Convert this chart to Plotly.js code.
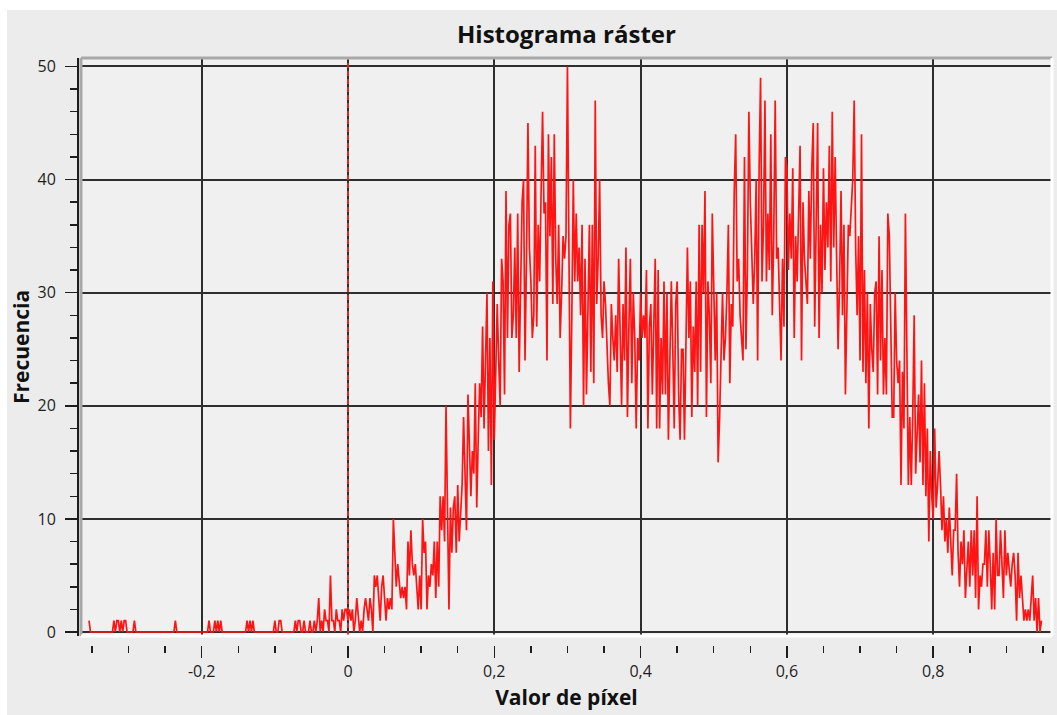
<!DOCTYPE html>
<html>
<head>
<meta charset="utf-8">
<script src="https://cdn.plot.ly/plotly-3.0.1.min.js"></script>
<style>
  html, body { margin: 0; padding: 0; background: #ffffff; }
  #chart { position: absolute; left: 7px; top: 10px; width: 1050px; height: 705px; }
</style>
</head>
<body>
<div id="chart"></div>
<script>
// Histogram bins (uniform): first bin centre and bin width
const binStart = -0.354;
const binWidth = 0.002;

// Frequencies, one per bin
const freq = [
  1,0,0,0,0,0,0,0,0,0,
  0,0,0,0,0,0,0,1,0,1,
  1,0,1,0,1,1,0,0,0,0,
  0,1,0,0,0,0,0,0,0,0,
  0,0,0,0,0,0,0,0,0,0,
  0,0,0,0,0,0,0,0,0,1,
  0,0,0,0,0,0,0,0,0,0,
  0,0,0,0,0,0,0,0,0,0,
  0,0,1,0,0,0,1,0,1,0,
  1,0,0,0,0,0,0,0,0,0,
  0,0,0,0,0,0,0,0,1,0,
  1,0,1,0,0,0,0,0,0,0,
  0,0,0,0,0,0,0,1,0,0,
  1,1,0,0,0,0,0,0,0,0,
  0,1,0,1,1,0,0,1,0,0,
  0,1,0,0,1,0,1,3,0,1,
  0,2,1,1,0,5,1,1,0,2,
  1,1,0,2,1,2,2,1,2,1,
  2,0,1,3,1,0,1,0,2,3,
  2,1,3,2,0,5,4,5,3,1,
  4,5,3,1,3,2,3,2,10,6,
  4,6,4,3,4,3,4,2,8,5,
  9,6,5,6,4,2,5,2,10,7,
  8,2,5,4,6,5,8,3,8,4,
  12,9,12,8,20,11,2,11,7,11,
  12,7,13,8,11,13,19,14,9,21,
  17,12,16,14,22,11,17,22,19,27,
  18,24,30,16,26,13,31,17,25,29,
  24,20,33,31,21,39,26,36,37,26,
  28,34,26,37,23,30,38,40,24,33,
  45,34,31,26,28,43,27,36,31,39,
  46,37,38,24,44,35,42,29,44,33,
  29,36,26,30,35,33,35,50,33,18,
  28,40,31,37,31,34,28,36,20,33,
  21,31,36,23,36,22,47,29,33,40,
  28,26,31,29,25,22,20,29,26,24,
  28,23,33,26,20,29,24,34,19,27,
  33,22,30,26,18,26,24,30,26,28,
  26,32,18,27,29,21,26,33,18,32,
  18,26,21,31,21,30,17,25,31,25,
  18,29,31,21,17,25,25,17,28,34,
  26,31,19,27,23,31,20,36,23,36,
  30,39,19,31,28,22,37,30,24,30,
  15,19,25,30,24,26,30,36,22,29,
  27,39,44,31,33,28,26,24,42,25,
  32,46,38,32,29,33,40,24,41,49,
  31,36,47,31,37,32,44,28,35,47,
  33,34,29,24,33,27,42,41,32,37,
  33,41,26,35,31,37,43,24,38,33,
  31,29,39,33,41,45,27,35,45,26,
  36,30,41,32,38,34,43,31,46,34,
  42,33,25,31,39,28,36,21,30,36,
  35,38,40,47,34,28,35,24,44,23,
  32,22,30,18,29,25,23,30,31,21,
  35,24,32,21,26,21,37,35,27,19,
  19,30,24,22,24,13,23,18,37,21,
  13,19,13,19,28,14,17,21,15,24,
  13,22,12,18,8,16,12,10,18,11,
  13,16,13,9,12,8,10,7,11,8,
  5,9,9,14,7,4,8,6,9,3,
  6,8,4,9,5,9,3,12,2,5,
  4,6,6,9,4,9,6,2,7,2,
  10,5,5,9,6,3,9,5,7,5,
  4,6,7,5,1,7,3,5,3,1,
  2,1,2,1,3,5,1,3,0,3,0,1
];

const xTickVals = [-0.2, 0, 0.2, 0.4, 0.6, 0.8];
const xTickText = ['-0,2', '0', '0,2', '0,4', '0,6', '0,8'];
const yTickVals = [0, 10, 20, 30, 40, 50];
const yTickText = ['0', '10', '20', '30', '40', '50'];

const binCentres = freq.map((_, i) => binStart + i * binWidth);

const FONT = 'Open Sans, Noto Sans, DejaVu Sans, sans-serif';
const INK = '#1e1e1e';
const GRID = '#2e2e2e';

const trace = {
  type: 'scatter',
  mode: 'lines',
  x: binCentres,
  y: freq,
  line: { color: '#ff1414', width: 1.7 },
  hoverinfo: 'skip'
};

const layout = {
  width: 1050,
  height: 705,
  paper_bgcolor: '#ececec',
  plot_bgcolor: '#f0f0f0',
  margin: { l: 70, r: 5, t: 48, b: 70, pad: 0 },
  separators: ', ',
  showlegend: false,
  title: {
    text: 'Histograma ráster',
    font: { family: FONT, size: 24, color: '#111111', weight: 700 },
    x: 0.502, xref: 'paper', xanchor: 'center',
    y: 1 - 25 / 705, yref: 'container', yanchor: 'middle'
  },
  xaxis: {
    range: [-0.365, 0.9624],
    domain: [0.0041, 1],
    anchor: 'free',
    position: 0,
    tickmode: 'array',
    tickvals: xTickVals,
    ticktext: xTickText,
    ticks: 'outside',
    ticklen: 12,
    tickwidth: 1.5,
    tickcolor: INK,
    minor: { tickmode: 'linear', tick0: -0.35, dtick: 0.05, ticks: 'outside', ticklen: 7, tickwidth: 1.5, tickcolor: INK, showgrid: false },
    showgrid: true,
    gridcolor: GRID,
    gridwidth: 2,
    zeroline: false,
    showline: false,
    tickfont: { family: FONT, size: 16, color: INK },
    title: { text: 'Valor de píxel', font: { family: FONT, size: 21, color: '#111111', weight: 700 }, standoff: 9 },
    fixedrange: true
  },
  yaxis: {
    range: [-0.354, 50.75],
    domain: [0.0153, 1],
    anchor: 'free',
    position: 0,
    tickmode: 'array',
    tickvals: yTickVals,
    ticktext: yTickText,
    ticks: 'outside',
    ticklen: 12,
    tickwidth: 1.5,
    tickcolor: INK,
    ticklabelstandoff: 6,
    minor: { tickmode: 'linear', tick0: 0, dtick: 2, ticks: 'outside', ticklen: 7, tickwidth: 1.5, tickcolor: INK, showgrid: false },
    showline: true,
    linecolor: INK,
    linewidth: 1.5,
    showgrid: true,
    gridcolor: GRID,
    gridwidth: 2,
    zeroline: false,
    tickfont: { family: FONT, size: 16, color: INK },
    title: { text: 'Frecuencia', font: { family: FONT, size: 21, color: '#111111', weight: 700 }, standoff: 6 },
    fixedrange: true
  },
  shapes: [
    { type: 'line', layer: 'above', xref: 'x', yref: 'y domain', x0: 0, x1: 0, y0: 0, y1: 1,
      line: { color: '#ff2a2a', width: 1.6, dash: '5px,3px' } },
    { type: 'line', layer: 'above', xref: 'x domain', yref: 'y domain', x0: 0, x1: 1, y0: 1, y1: 1,
      line: { color: '#a8a8a8', width: 3 } },
    { type: 'line', layer: 'above', xref: 'x domain', yref: 'y domain', x0: 0, x1: 0, y0: 0, y1: 1,
      line: { color: '#a8a8a8', width: 3 } },
    { type: 'line', layer: 'above', xref: 'x domain', yref: 'y domain', x0: 0, x1: 1, y0: 0, y1: 0,
      line: { color: '#ffffff', width: 3 } },
    { type: 'line', layer: 'above', xref: 'x domain', yref: 'y domain', x0: 1, x1: 1, y0: 0, y1: 1,
      line: { color: '#ffffff', width: 3 } }
  ]
};

Plotly.newPlot('chart', [trace], layout, { displayModeBar: false, staticPlot: true });
</script>
</body>
</html>
